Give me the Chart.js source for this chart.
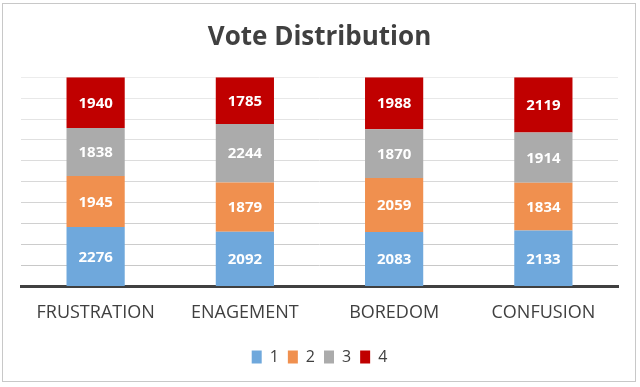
<!DOCTYPE html>
<html>
<head>
<meta charset="utf-8">
<script src="https://cdn.jsdelivr.net/npm/chart.js@4/dist/chart.umd.min.js"></script>
<style>
    html, body { margin: 0; padding: 0; background: #fff; }
    #wrap {
        position: absolute; left: 2px; top: 3px;
        width: 634px; height: 379px;
        border: 1px solid #c8c8c8; box-sizing: border-box;
    }
    canvas { display: block; }
</style>
</head>
<body>
<div id="wrap"><canvas id="voteChart"></canvas></div>
<script>
// 数据
const categories = ['FRUSTRATION', 'ENAGEMENT', 'BOREDOM', 'CONFUSION'];
const seriesNames = ['1', '2', '3', '4'];
const votes1 = [2276, 2092, 2083, 2133];
const votes2 = [1945, 1879, 2059, 1834];
const votes3 = [1838, 2244, 1870, 1914];
const votes4 = [1940, 1785, 1988, 2119];
const seriesColors = ['#6FA8DC', '#F0904F', '#ABABAB', '#C00000'];

// 段内数值标签
const segmentLabels = {
    id: 'segmentLabels',
    afterDatasetsDraw(chart) {
        const ctx = chart.ctx;
        ctx.save();
        ctx.font = 'bold 15px "Open Sans", sans-serif';
        ctx.fillStyle = '#ffffff';
        ctx.textAlign = 'center';
        ctx.textBaseline = 'middle';
        chart.data.datasets.forEach((ds, i) => {
            chart.getDatasetMeta(i).data.forEach((bar, j) => {
                const mid = (bar.y + bar.base) / 2;
                ctx.fillText(ds.data[j], bar.x, mid + 1);
            });
        });
        ctx.restore();
    }
};

const allSeries = [votes1, votes2, votes3, votes4];

const ctx = document.getElementById('voteChart').getContext('2d');
new Chart(ctx, {
    type: 'bar',
    data: {
        labels: categories,
        datasets: allSeries.map((vals, i) => ({
            label: seriesNames[i],
            data: vals,
            backgroundColor: seriesColors[i],
            borderWidth: 0,
            barPercentage: 0.39,
            categoryPercentage: 1.0
        }))
    },
    options: {
        responsive: true,
        maintainAspectRatio: false,
        animation: false,
        layout: {
            padding: { left: 18, right: 17, top: 0, bottom: 6 }
        },
        scales: {
            x: {
                stacked: true,
                grid: { display: false, drawTicks: false },
                border: { display: true, color: '#404040', width: 3 },
                ticks: {
                    color: '#404040',
                    font: { family: '"Open Sans", sans-serif', size: 18 },
                    padding: 16
                }
            },
            y: {
                stacked: true,
                min: 0,
                max: 8000,
                ticks: { display: false, stepSize: 800 },
                grid: {
                    drawTicks: false,
                    color: c => {
                        const t = c.index / 10;
                        const v = Math.round(196 + t * 40);
                        return `rgb(${v},${v},${v})`;
                    },
                    lineWidth: 1
                },
                border: { display: false }
            }
        },
        plugins: {
            title: {
                display: true,
                text: 'Vote Distribution',
                color: '#404040',
                font: { family: '"Open Sans", sans-serif', size: 26, weight: 'bold' },
                padding: { top: 18, bottom: 24 }
            },
            legend: {
                position: 'bottom',
                labels: {
                    color: '#404040',
                    font: { family: '"Open Sans", sans-serif', size: 16 },
                    boxWidth: 10,
                    boxHeight: 13,
                    padding: 9
                }
            },
            tooltip: { enabled: false }
        }
    },
    plugins: [segmentLabels]
});
</script>
</body>
</html>
